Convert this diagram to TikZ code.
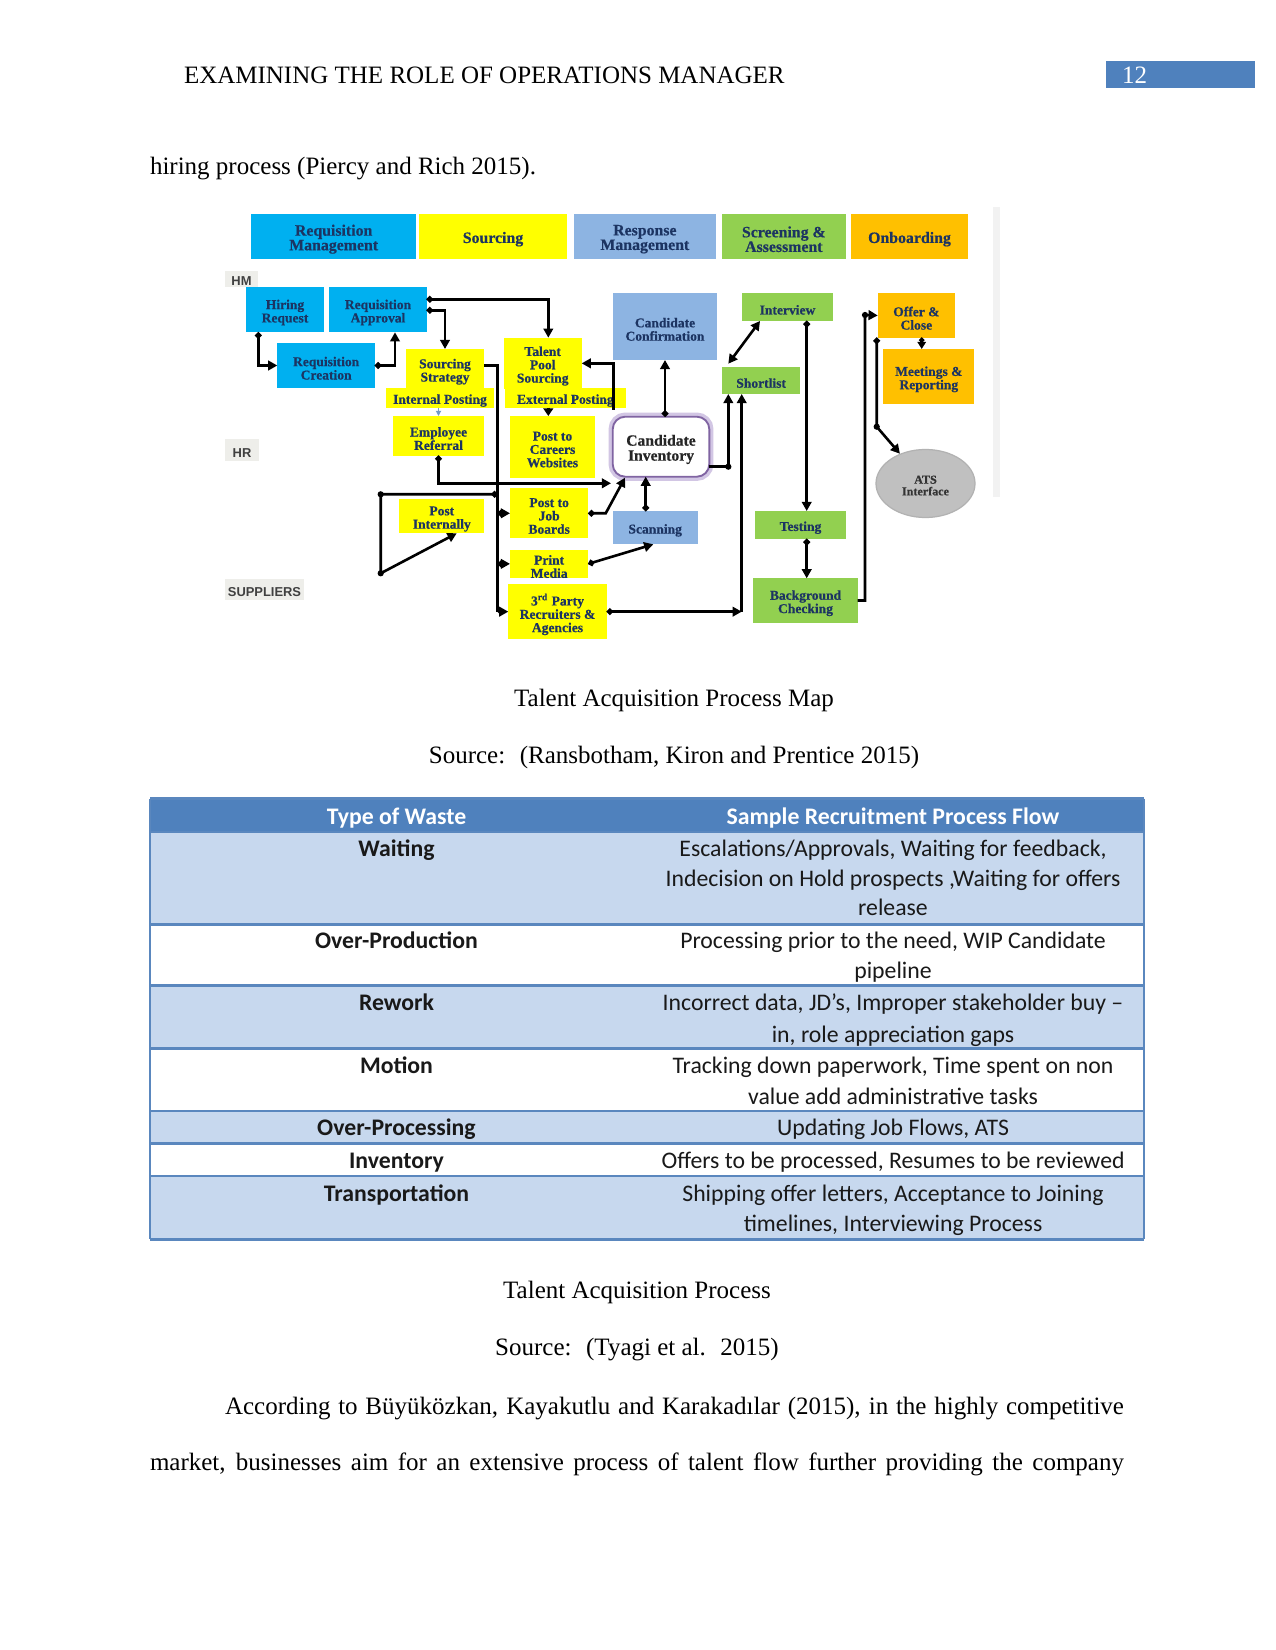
\documentclass[tikz,border=0pt]{standalone}
\usepackage{fontspec}
\setmainfont{Liberation Serif}
\newfontfamily\tabfont{Carlito}
\newfontfamily\lanefont{Liberation Sans}
\newfontfamily\diafont[UprightFeatures={FakeBold=0.5},BoldFeatures={FakeBold=0.5}]{Liberation Serif}
\usetikzlibrary{arrows.meta,calc,shapes.geometric}

\definecolor{cyanb}{RGB}{0,176,240}
\definecolor{yel}{RGB}{255,255,0}
\definecolor{lblue}{RGB}{141,180,226}
\definecolor{grn}{RGB}{146,208,80}
\definecolor{gold}{RGB}{255,192,0}
\definecolor{navy}{RGB}{28,52,98}
\definecolor{hdrblue}{RGB}{79,129,189}
\definecolor{rowblue}{RGB}{199,216,238}
\definecolor{sepblue}{RGB}{90,135,190}
\definecolor{purp}{RGB}{128,100,162}
\definecolor{purglow}{RGB}{210,198,228}
\definecolor{lanegray}{RGB}{238,238,234}
\definecolor{atsgray}{RGB}{192,192,192}

% name, x1, y1, x2, y2, shape style, text style, text
\newcommand\mybox[8]{%
  \node[bxs, #6, minimum width={(#4-#2)*0.48pt}, minimum height={(#5-#3)*0.48pt}] (#1) at ({(#2+#4)/2},{(#3+#5)/2}) {};
  \node[bx, #7] (#1t) at ([yshift=-1.3pt]#1.center) {#8};}

\tikzset{
 bxs/.style={inner sep=0pt, outer sep=0pt},
 bx/.style={inner sep=0pt, outer sep=0pt, align=center, text=navy, font=\diafont\bfseries\fontsize{6.5}{6.4}\selectfont},
 hdr/.style={font=\diafont\bfseries\fontsize{7.6}{7}\selectfont},
 lane/.style={text=black!75, font=\lanefont\bfseries\fontsize{6.2}{6.5}\selectfont},
 conn/.style={line width=1.25pt, draw=black},
 da/.style={conn, {Circle[length=3pt]}-{Triangle[length=4.4pt,width=4.6pt]}},
 sda/.style={conn, {Circle[length=2.4pt]}-{Triangle[length=3.4pt,width=4pt]}},
 ar/.style={conn, -{Triangle[length=4.4pt,width=4.6pt]}},
 aa/.style={conn, {Triangle[length=4.4pt,width=4.6pt]}-{Triangle[length=4.4pt,width=4.6pt]}},
 body/.style={inner sep=0pt, outer sep=0pt, font=\fontsize{12}{14}\selectfont},
 tb/.style={inner sep=0pt, anchor=base, text=black!90, font=\tabfont\fontsize{11.4}{13}\selectfont},
 tbb/.style={tb, font=\tabfont\bfseries\fontsize{11.4}{13}\selectfont},
}

\begin{document}
\begin{tikzpicture}[x=0.48pt, y=-0.48pt]
\useasboundingbox (0,0) rectangle (1275,1650);
\fill[white] (0,0) rectangle (1275,1650);

% ---------- page header ----------
\node[body, anchor=base west] (runhead) at (184,84) {EXAMINING THE ROLE OF OPERATIONS MANAGER};
\node[bxs, fill=hdrblue, minimum width={149*0.48pt}, minimum height={27*0.48pt}] (pgbox) at (1180.5,74.5) {};
\node[body, anchor=base west, text=white] (pgnum) at (1122,84) {12};
\node[body, anchor=base west] (intro) at (150,175) {hiring process (Piercy and Rich 2015).};

% ---------- diagram ----------
\fill[black!5] (993,207) rectangle (1000,497);

\mybox{h1}{251}{214}{416.3}{259}{fill=cyanb}{hdr}{Requisition\\Management}
\mybox{h2}{419}{214}{567}{259}{fill=yel}{hdr}{Sourcing}
\mybox{h3}{574}{214}{715.7}{259}{fill=lblue}{hdr}{Response\\Management}
\mybox{h4}{722}{214}{845.7}{259}{fill=grn}{hdr}{Screening \&\\Assessment}
\mybox{h5}{851}{214}{968}{259}{fill=gold}{hdr}{Onboarding}

\mybox{lhm}{225}{270.7}{258}{286.7}{fill=lanegray}{lane}{HM}
\mybox{lhr}{225}{439}{259}{461}{fill=lanegray}{lane}{HR}
\mybox{lsup}{225}{579}{304}{600}{fill=lanegray}{lane}{SUPPLIERS}

\mybox{hreq}{246}{287.3}{324}{332.3}{fill=cyanb}{}{Hiring\\Request}
\mybox{rapp}{329.3}{287.3}{426.7}{332.3}{fill=cyanb}{}{Requisition\\Approval}
\mybox{rcre}{277.3}{342.7}{375}{388.3}{fill=cyanb}{}{Requisition\\Creation}
\mybox{sstr}{405.7}{349}{484.3}{389}{fill=yel}{}{Sourcing\\Strategy}
\mybox{ipost}{386}{388}{494}{407.7}{fill=yel}{}{Internal Posting}
\mybox{tps}{503.7}{337.7}{581.7}{389}{fill=yel}{}{Talent\\Pool\\Sourcing}
\mybox{epost}{505}{388}{625.7}{407.7}{fill=yel}{}{External Posting}
\mybox{cconf}{612.7}{293.3}{717.3}{360}{fill=lblue}{}{Candidate\\Confirmation}
\mybox{intv}{742.3}{293.3}{832.7}{321}{fill=grn}{}{Interview}
\mybox{sl}{722.3}{366.7}{800}{394}{fill=grn}{}{Shortlist}
\mybox{offer}{877.7}{293.3}{955}{337.7}{fill=gold}{}{Offer \&\\Close}
\mybox{meet}{883.3}{349}{974.3}{404.3}{fill=gold}{}{Meetings \&\\Reporting}
\mybox{eref}{392.7}{416}{484.3}{455.7}{fill=yel}{}{Employee\\Referral}
\mybox{pcw}{510}{416}{595}{477.7}{fill=yel}{}{Post to\\Careers\\Websites}
\mybox{pint}{399.3}{499.3}{484.3}{533.3}{fill=yel}{}{Post\\Internally}
\mybox{pjb}{510}{488.3}{588.3}{538.3}{fill=yel}{}{Post to\\Job\\Boards}
\mybox{pm}{510}{550}{588.3}{577.7}{fill=yel}{}{Print\\Media}
\mybox{tpr}{508.3}{584}{606.7}{639.3}{fill=yel}{}{3\textsuperscript{rd} Party\\Recruiters \&\\Agencies}
\mybox{cinv}{612.7}{416.7}{709.3}{476.7}{fill=white,draw=purp,line width=0.9pt,rounded corners=6pt,preaction={draw=purglow,line width=4pt}}{font=\diafont\bfseries\fontsize{7.5}{7.2}\selectfont,text=black!85}{Candidate\\Inventory}
\mybox{scan}{612.7}{511}{697.7}{544.3}{fill=lblue}{}{Scanning}
\mybox{test}{755}{511}{846}{539}{fill=grn}{}{Testing}
\mybox{bgc}{753.3}{578.3}{857.7}{622.7}{fill=grn}{}{Background\\Checking}
\node[ellipse, fill=atsgray, draw=black!30, line width=0.6pt, minimum width={99*0.48pt}, minimum height={68*0.48pt}, inner sep=0pt] (ats) at (925.5,483.5) {};
\node[bx, text=black!80, font=\diafont\bfseries\fontsize{5.8}{5.6}\selectfont] (atst) at ([yshift=-1pt]ats.center) {ATS\\Interface};

% ---------- connectors ----------
\draw[da] ($(hreq.south west)+(12.3,0)$) |- (rcre.west);
\draw[da] (rcre.east) -| ($(rapp.south west)+(65.7,0)$);
\draw[da] ($(rapp.north east)+(0,12)$) -| ($(tps.north west)+(44.6,0)$);
\draw[da] ($(rapp.north east)+(0,23)$) -| (sstr.north);

\coordinate (vt) at (497.7,365.7);
\draw[conn] (sstr.east |- vt) -- (vt) -- (vt |- tpr.west);
\draw[da] (vt |- pjb.west) -- (pjb.west);
\draw[da] (vt |- pm.west) -- (pm.west);
\draw[da] (vt |- tpr.west) -- (tpr.west);

\coordinate (lp1) at (380.7,494.3);
\coordinate (lp2) at (380.7,573.3);
\draw[da] (vt |- lp1) -- (lp1) -- (lp2) -- ($(pint.south west)+(57.4,0)$);
\fill (lp1) circle (1.5pt);
\fill (lp2) circle (1.5pt);

\coordinate (ciL) at (611,483.3);
\draw[da] (eref.south) |- (ciL);

\draw[draw=hdrblue!80, line width=0.5pt, -{Triangle[length=2.5pt,width=2.5pt]}] (eref.north |- ipost.south) -- (eref.north);

\coordinate (pcwt) at ($(pcw.north west)+(38.3,0)$);
\draw[conn, -{Triangle[length=3.6pt,width=4.6pt]}] (pcwt |- epost.south) -- (pcwt);

\draw[ar] ($(cinv.north west)+(0.6,-7)$) |- (tps.east);

\coordinate (cc) at ($(cinv.north west)+(52.3,0)$);
\draw[da] (cc) -- (cc |- cconf.south);

\draw[da] (pjb.east) -- ++(17.4,0) -- ($(cinv.south west)+(12.3,1)$);

\coordinate (sc) at ($(scan.north west)+(33,0)$);
\draw[da] (sc) -- (sc |- cinv.south);

\draw[da] (pm.east) -- ($(scan.south west)+(40.6,0)$);

\coordinate (vs) at ($(sl.south west)+(19.4,0)$);
\draw[da] (tpr.east) -- (vs |- tpr.east);
\draw[ar] (vs |- tpr.east) -- (vs);

\coordinate (vs2) at ($(sl.south west)+(6,0)$);
\coordinate (ce) at ($(cinv.east)+(0,20)$);
\draw[ar] (ce) -| (vs2);
\fill (ce -| vs2) circle (1.5pt);

\draw[aa] ($(sl.north west)+(6,-3)$) -- ($(intv.south west)+(17.7,0)$);

\coordinate (it) at ($(intv.south west)+(64.4,0)$);
\draw[da] (it) -- (it |- test.north);
\draw[da] (it |- test.south) -- (it |- bgc.north);

\coordinate (bo) at (865,315);
\draw[ar] (bgc.east) -| (bo) -- (offer.west);
\fill (bo) circle (1.5pt);

\coordinate (oa) at (876.7,426.7);
\draw[da] ($(offer.south west)+(-1,0)$) -- (oa) -- (ats);
\fill (oa) circle (1.5pt);

\coordinate (om) at ($(offer.south west)+(44,0)$);
\draw[sda] (om) -- (om |- meet.north);

% ---------- captions ----------
\node[body, anchor=base] (cap1) at (674,706) {Talent Acquisition Process Map};
\node[body, anchor=base] (src1) at (674,763) {Source:~ (Ransbotham, Kiron and Prentice 2015)};

% ---------- table ----------
\fill[hdrblue] (150,798.5) rectangle (1144,832);
\fill[rowblue] (150,832) rectangle (1144,924.7);
\fill[rowblue] (150,985.7) rectangle (1144,1048.8);
\fill[rowblue] (150,1110.9) rectangle (1144,1143.5);
\fill[rowblue] (150,1176.1) rectangle (1144,1239.3);
\foreach \yy in {798.5,832,924.7,985.7,1048.8,1110.9,1143.5,1176.1,1239.3}
  \draw[sepblue, line width=1.3pt] (150,\yy) -- (1144,\yy);
\draw[sepblue, line width=0.8pt] (150,798.5) -- (150,1239.3);
\draw[sepblue, line width=0.8pt] (1144,798.5) -- (1144,1239.3);

\node[tbb, text=white] (th1) at (396.5,824.5) {Type of Waste};
\node[tbb, text=white] (th2) at (893,824.5) {Sample Recruitment Process Flow};

\node[tbb] (r1a) at (396.5,856.5) {Waiting};
\node[tb] (r1b) at (893,856.5) {Escalations/Approvals, Waiting for feedback,};
\node[tb] (r1c) at (893,886.5) {Indecision on Hold prospects ,Waiting for offers};
\node[tb] (r1d) at (893,915.5) {release};

\node[tbb] (r2a) at (396.5,948.5) {Over-Production};
\node[tb] (r2b) at (893,948.5) {Processing prior to the need, WIP Candidate};
\node[tb] (r2c) at (893,978) {pipeline};

\node[tbb] (r3a) at (396.5,1010.6) {Rework};
\node[tb] (r3b) at (893,1010.6) {Incorrect data, JD’s, Improper stakeholder buy –};
\node[tb] (r3c) at (893,1042) {in, role appreciation gaps};

\node[tbb] (r4a) at (396.5,1073.7) {Motion};
\node[tb] (r4b) at (893,1073.7) {Tracking down paperwork, Time spent on non};
\node[tb] (r4c) at (893,1104) {value add administrative tasks};

\node[tbb] (r5a) at (396.5,1135.7) {Over-Processing};
\node[tb] (r5b) at (893,1135.7) {Updating Job Flows, ATS};

\node[tbb] (r6a) at (396.5,1168) {Inventory};
\node[tb] (r6b) at (893,1168) {Offers to be processed, Resumes to be reviewed};

\node[tbb] (r7a) at (396.5,1201) {Transportation};
\node[tb] (r7b) at (893,1201) {Shipping offer letters, Acceptance to Joining};
\node[tb] (r7c) at (893,1231.5) {timelines, Interviewing Process};

% ---------- captions and body ----------
\node[body, anchor=base] (cap2) at (637,1298) {Talent Acquisition Process};
\node[body, anchor=base] (src2) at (637,1355) {Source:~ (Tyagi et al.~ 2015)};
\node[body, anchor=base west] (para1) at (225,1414) {\makebox[431.5pt][s]{According to Büyüközkan, Kayakutlu and Karakadılar (2015), in the highly competitive}};
\node[body, anchor=base west] (para2) at (150,1470) {\makebox[467.5pt][s]{market, businesses aim for an extensive process of talent flow further providing the company}};
\end{tikzpicture}
\end{document}
